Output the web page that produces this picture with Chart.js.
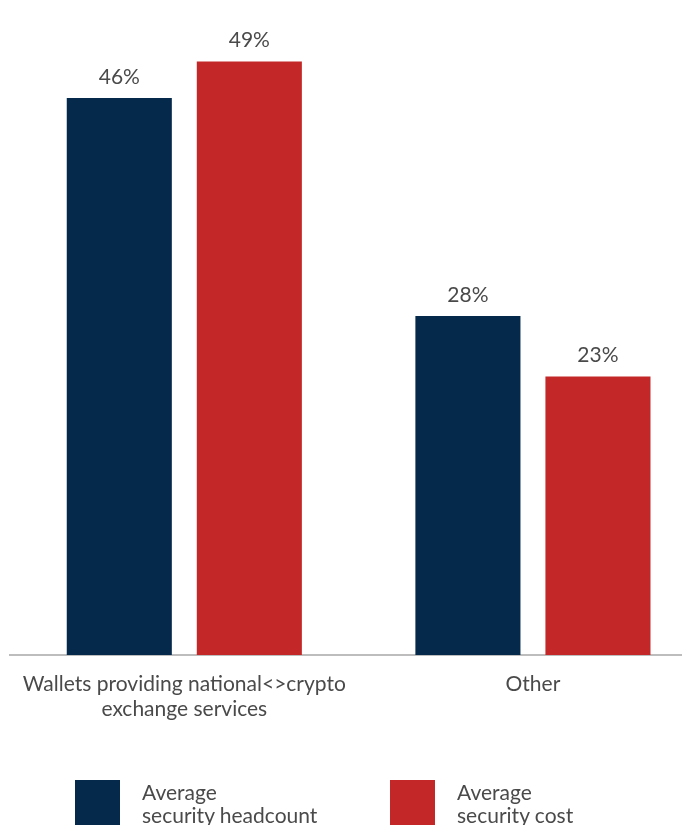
<!DOCTYPE html>
<html>
<head>
<meta charset="utf-8">
<script src="https://cdn.jsdelivr.net/npm/chart.js@4/dist/chart.umd.min.js"></script>
<style>
  html, body { margin: 0; padding: 0; background: #fff; overflow: hidden; width: 682px; height: 825px; }
  #wrap { position: absolute; left: 0; top: 0; width: 720px; height: 825px; }
  .leg { position: absolute; top: 780px; font-family: Lato, sans-serif; font-size: 21px; color: #4a4a4a; line-height: 23px; }
  .leg .box { position: absolute; left: 0; top: 0; width: 45px; height: 45px; }
  .leg .txt { position: absolute; left: 67px; top: 0px; white-space: nowrap; }
</style>
</head>
<body>
<div id="wrap"><canvas id="chart"></canvas></div>
<div id="legend"></div>
<script>
var categories = [["Wallets providing national<>crypto", "exchange services"], "Other"];
var seriesNames = [["Average", "security headcount"], ["Average", "security cost"]];
var headcount = [46, 28];
var cost = [49, 23];
var colors = ["#05294a", "#c42727"];

// percentage labels above each bar
var barLabels = {
  id: "barLabels",
  afterDatasetsDraw: function(chart) {
    var ctx = chart.ctx;
    ctx.save();
    ctx.font = "21px Lato, sans-serif";
    ctx.fillStyle = "#4a4a4a";
    ctx.textAlign = "center";
    ctx.textBaseline = "middle";
    chart.data.datasets.forEach(function(ds, i) {
      chart.getDatasetMeta(i).data.forEach(function(bar, j) {
        ctx.fillText(ds.data[j] + "%", bar.x, bar.y - 21);
      });
    });
    ctx.restore();
  }
};

var config = {
  type: "bar",
  data: {
    labels: categories,
    datasets: [
      { label: "Average security headcount", data: headcount, backgroundColor: colors[0] },
      { label: "Average security cost", data: cost, backgroundColor: colors[1] }
    ]
  },
  options: {
    responsive: true,
    maintainAspectRatio: false,
    animation: false,
    categoryPercentage: 0.746,
    barPercentage: 0.808,
    layout: { padding: { top: 49.5, left: 10, right: 12.75, bottom: 0 } },
    plugins: { legend: { display: false }, tooltip: { enabled: false } },
    scales: {
      y: { display: false, min: 0, max: 50 },
      x: {
        grid: { display: false },
        border: { display: true, color: "#bdbdbd", width: 2 },
        ticks: { color: "#4a4a4a", font: { family: "Lato", size: 21, lineHeight: 1.18 }, padding: 9, maxRotation: 0 },
        afterFit: function(scale) { scale.height = 170; }
      }
    }
  },
  plugins: [barLabels]
};
var chart = new Chart(document.getElementById("chart"), config);

var legendLeft = [75, 390];
var legendEl = document.getElementById("legend");
seriesNames.forEach(function(name, i) {
  var item = document.createElement("div");
  item.className = "leg";
  item.style.left = legendLeft[i] + "px";
  item.innerHTML = '<div class="box" style="background:' + colors[i] + '"></div><div class="txt">' + name.join("<br>") + "</div>";
  legendEl.appendChild(item);
});
</script>
</body>
</html>
